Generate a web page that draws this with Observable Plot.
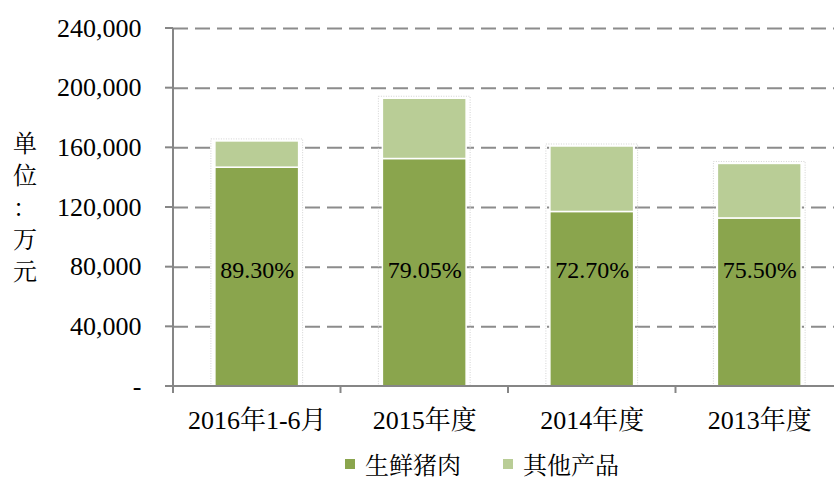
<!DOCTYPE html>
<html>
<head>
<meta charset="utf-8">
<script src="https://cdn.jsdelivr.net/npm/d3@7"></script>
<script src="https://cdn.jsdelivr.net/npm/@observablehq/plot@0.6"></script>
<style>
  html, body { margin: 0; padding: 0; background: #fff; overflow: hidden; }
  #wrap { position: relative; width: 834px; height: 481px; overflow: hidden; }
  #chart svg, #chart svg text { font-family: "Liberation Serif", "Noto Serif CJK SC", "Noto Sans CJK SC", serif !important; }
  #ytitle { position: absolute; left: 13px; top: 126px; width: 24px; font: 24px "Noto Serif CJK SC", "Noto Sans CJK SC", serif; line-height: 32px; color: #000; text-align: center; }
  .legend { position: absolute; left: 345px; top: 452px; height: 24px; display: flex; align-items: center; font: 24px "Noto Serif CJK SC", "Noto Sans CJK SC", serif; line-height: 24px; color: #000; }
  .legend .item { display: flex; align-items: center; margin-right: 42px; line-height: 24px; }
  .legend .sw { width: 10px; height: 10px; margin-right: 10px; }
</style>
</head>
<body>
<div id="wrap">
  <div id="chart"></div>
  <div class="legend" id="legend"></div>
  <div id="ytitle">单<br>位<br>：<br>万<br>元</div>
</div>
<script>
const categories = ["2016年1-6月", "2015年度", "2014年度", "2013年度"];
const series = ["生鲜猪肉", "其他产品"];
const freshPork = [146700, 152500, 117000, 112650];
const otherProducts = [17600, 40400, 43900, 36550];
const porkShare = ["89.30%", "79.05%", "72.70%", "75.50%"];
const yTicks = [0, 40000, 80000, 120000, 160000, 200000, 240000];
const colors = ["#8aa54d", "#b9cd96"];

const FONT = '"Liberation Serif", "Noto Serif CJK SC", "Noto Sans CJK SC", serif';
const AXIS = "#868686";
const GRID = "#8c8c8c";
const LABEL_VALUE = 78000;

const data = categories.flatMap((c, i) => [
  {category: c, series: series[0], value: freshPork[i]},
  {category: c, series: series[1], value: otherProducts[i]}
]);
const totals = categories.map((c, i) => ({category: c, total: freshPork[i] + otherProducts[i]}));
const labels = categories.map((c, i) => ({category: c, share: porkShare[i]}));

function axisLines(index, scales, values, dims) {
  const x = scales.x, y = scales.y;
  const step = x.step(), bw = x.bandwidth();
  const half = (step - bw) / 2;
  const bounds = categories.map(c => x(c) - half);
  bounds.push(x(categories[categories.length - 1]) + bw + half);
  const y0 = y(0);
  const g = d3.create("svg:g").attr("stroke", AXIS).attr("stroke-width", 2).attr("fill", "none");
  g.append("line").attr("x1", bounds[0]).attr("x2", bounds[0]).attr("y1", y(yTicks[yTicks.length - 1])).attr("y2", y0);
  for (const t of yTicks) {
    g.append("line").attr("x1", bounds[0] - 8).attr("x2", bounds[0]).attr("y1", y(t)).attr("y2", y(t));
  }
  g.append("line").attr("x1", bounds[0] - 8).attr("x2", dims.width + 20).attr("y1", y0).attr("y2", y0);
  for (const b of bounds) {
    g.append("line").attr("x1", b).attr("x2", b).attr("y1", y0).attr("y2", y0 + 7);
  }
  return g.node();
}

const chart = Plot.plot({
  width: 834,
  height: 450,
  marginLeft: 173,
  marginRight: -9,
  marginTop: 28,
  marginBottom: 64,
  style: {fontFamily: FONT, fontSize: "26px", color: "#000", background: "#fff", overflow: "hidden"},
  x: {domain: categories, paddingInner: 0.5, paddingOuter: 0.25, round: false, label: null},
  y: {domain: [0, 240000], label: null},
  color: {domain: series, range: colors},
  marks: [
    Plot.ruleY(yTicks.filter(v => v > 0), {stroke: GRID, strokeWidth: 2, strokeDasharray: "15,7"}),
    Plot.barY(totals, {x: "category", y: "total", fill: "none", stroke: "#d2d2d2", strokeDasharray: "1,1.5", insetLeft: -4, insetRight: -4, insetTop: -2}),
    Plot.barY(data, {x: "category", y: "value", fill: "series", stroke: "#fff", strokeWidth: 1.5}),
    Plot.text(labels, {x: "category", y: () => LABEL_VALUE, text: "share", fill: "#000", fontSize: 24, fontFamily: FONT}),
    axisLines,
    Plot.axisY({ticks: yTicks, tickFormat: d => d === 0 ? "-" : d3.format(",")(d), tickSize: 0, tickPadding: 32, label: null, fill: "#000", fontSize: 26, fontFamily: FONT}),
    Plot.axisX({tickSize: 0, tickPadding: 24, label: null, fill: "#000", fontSize: 26, fontFamily: FONT})
  ]
});
document.getElementById("chart").appendChild(chart);

const legend = document.getElementById("legend");
series.forEach((s, i) => {
  const item = document.createElement("div");
  item.className = "item";
  const sw = document.createElement("span");
  sw.className = "sw";
  sw.style.background = colors[i];
  const t = document.createElement("span");
  t.textContent = s;
  item.appendChild(sw);
  item.appendChild(t);
  legend.appendChild(item);
});
</script>
</body>
</html>
